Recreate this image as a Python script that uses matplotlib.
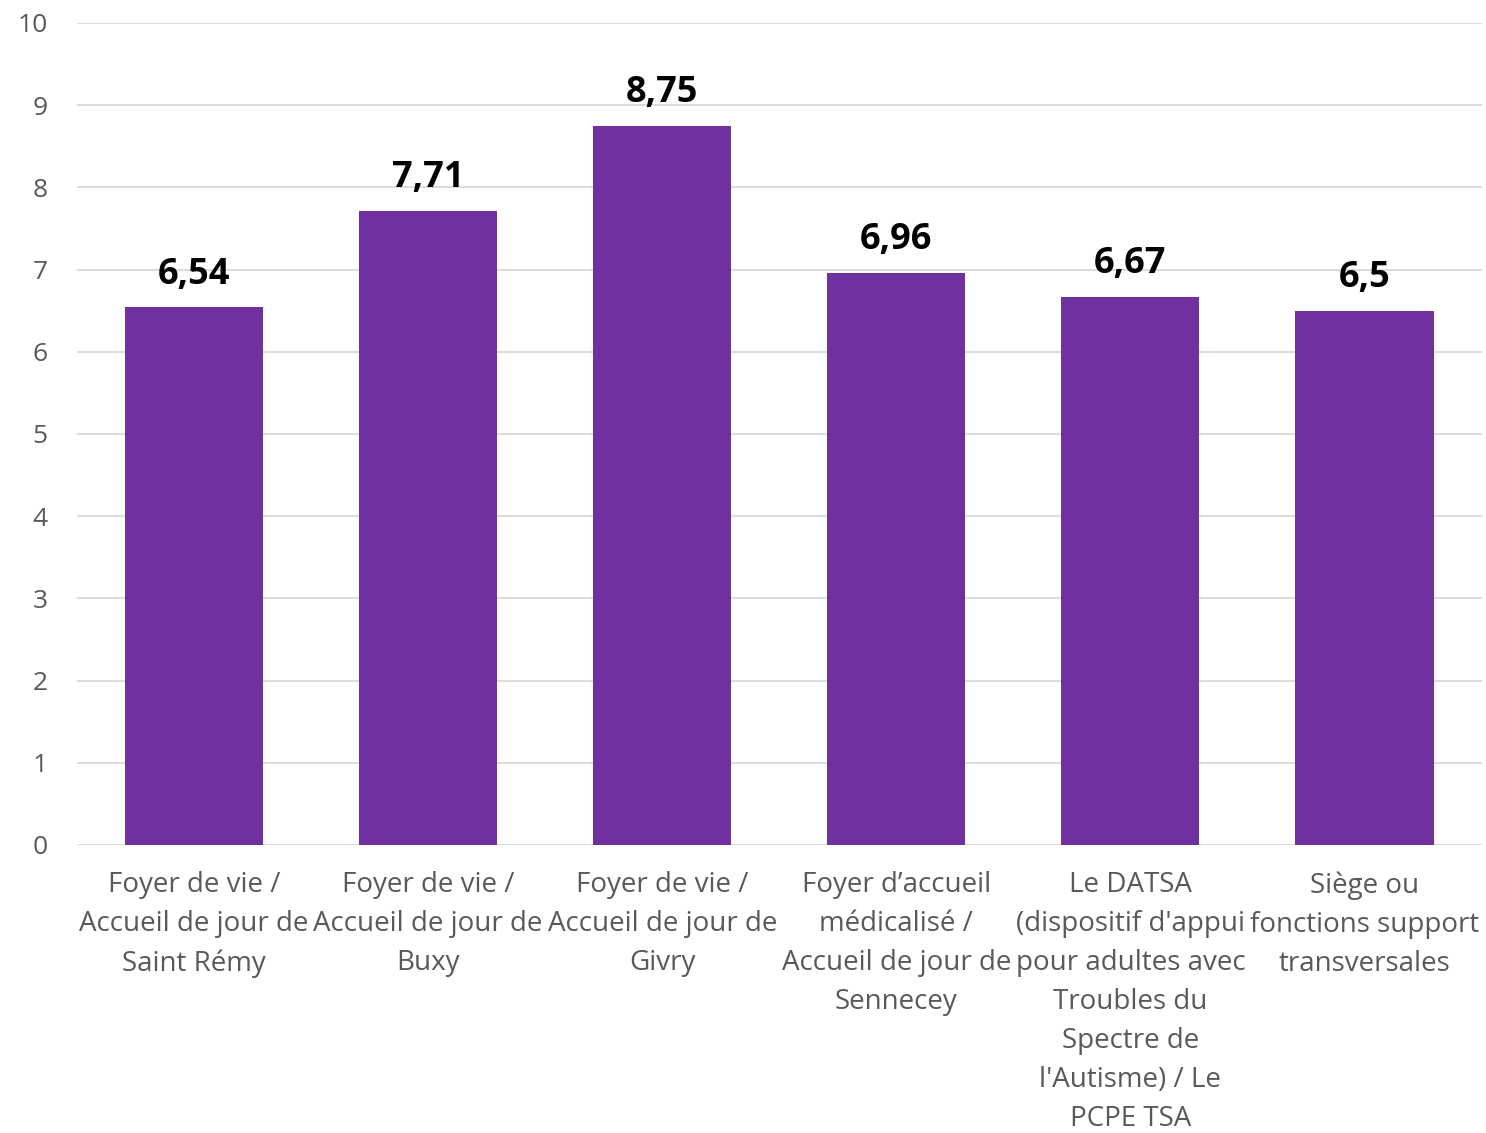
import matplotlib.pyplot as plt

categories = [
    "Foyer de vie /\nAccueil de jour de\nSaint Rémy",
    "Foyer de vie /\nAccueil de jour de\nBuxy",
    "Foyer de vie /\nAccueil de jour de\nGivry",
    "Foyer d’accueil\nmédicalisé /\nAccueil de jour de\nSennecey",
    "Le DATSA\n(dispositif d'appui\npour adultes avec\nTroubles du\nSpectre de\nl'Autisme) / Le\nPCPE TSA",
    "Siège ou\nfonctions support\ntransversales",
]
values = [6.54, 7.71, 8.75, 6.96, 6.67, 6.5]
value_labels = ["6,54", "7,71", "8,75", "6,96", "6,67", "6,5"]

plt.rcParams['font.family'] = ['Open Sans', 'DejaVu Sans']

fig = plt.figure(figsize=(14.86, 11.33), dpi=100)
ax = fig.add_axes([0.0518, 0.2542, 0.9452, 0.7255])

x = range(len(values))
ax.bar(x, values, width=0.59, color="#7030A0", zorder=3)

for xi, v, lab in zip(x, values, value_labels):
    ax.text(xi, v + 0.18, lab, ha="center", va="bottom",
            fontsize=26, fontweight="bold", color="black")

ax.set_ylim(0, 10)
ax.set_xlim(-0.5, len(values) - 0.5)
ax.set_yticks(range(0, 11))
ax.yaxis.grid(True, color="#D9D9D9", linewidth=1.3, zorder=0)
for s in ax.spines.values():
    s.set_visible(False)
ax.tick_params(axis="y", length=0, labelsize=19, labelcolor="#595959", pad=21)
ax.set_xticks(list(x))
ax.set_xticklabels(categories, linespacing=1.52)
ax.tick_params(axis="x", length=0, labelsize=20, labelcolor="#595959", pad=19)

fig.savefig("out.png", dpi=100)
